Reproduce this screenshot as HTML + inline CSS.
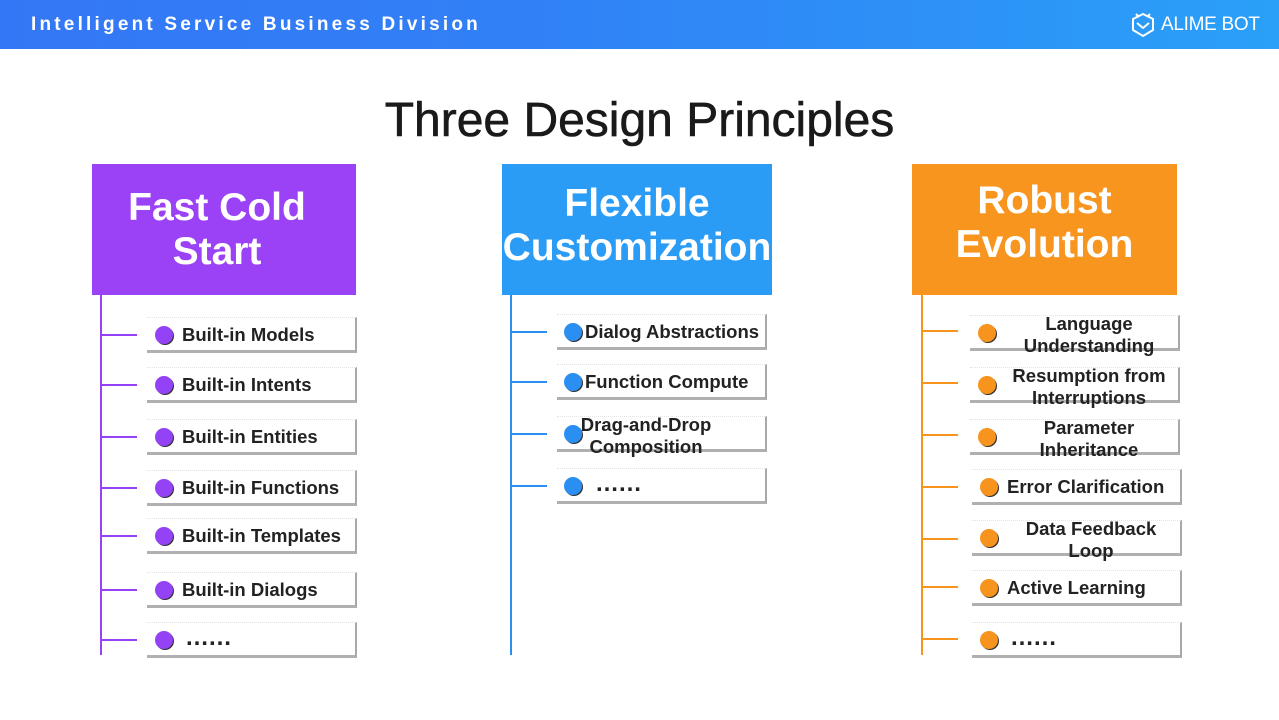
<!DOCTYPE html>
<html><head><meta charset="utf-8"><style>
*{margin:0;padding:0;box-sizing:border-box}
body{width:1279px;height:720px;position:relative;background:#fff;font-family:"Liberation Sans",sans-serif;overflow:hidden}
.hdr{position:absolute;left:0;top:0;width:1279px;height:49px;background:linear-gradient(90deg,#3477f6 0%,#3180f6 40%,#2aa0f8 100%)}
.hdr .t{position:absolute;left:31px;top:14px;color:#fff;font-size:19px;font-weight:bold;letter-spacing:3.2px}
.logo{position:absolute;left:1161px;top:14px;color:#fff;font-size:19px;letter-spacing:-0.3px}
.title{position:absolute;left:0;width:1279px;top:93px;text-align:center;font-size:48px;color:#1a1a1a;-webkit-text-stroke:0.6px #1a1a1a}
.head{position:absolute;top:164px;height:131px;color:#fff;font-size:39px;font-weight:bold;text-align:center;line-height:44px;display:flex;align-items:center;justify-content:center;white-space:nowrap}
.vl{position:absolute;width:2px;top:295px;height:360px}
.hl{position:absolute;height:2px;width:36px}
.box{position:absolute;width:210px;height:36px;border-right:2px solid #a8a8a8;border-bottom:3px solid #b0b0b0;border-top:1px dotted #e4e4e4;font-size:18.5px;font-weight:bold;color:#222}
.dot{position:absolute;left:8px;top:8px;width:18px;height:18px;border-radius:50%;box-shadow:1px 1px 0 #333}
.box .s{position:absolute;left:35px;top:6px;white-space:nowrap}
.box .d{position:absolute;left:30px;right:0;top:-3px;text-align:center;line-height:22px;white-space:nowrap}
.box .e{font-size:24px;top:1px;letter-spacing:-1px}
.p .dot{background:#9442f5}.b .dot{background:#2b8ff2}.o .dot{background:#f7941d}
</style></head><body>
<div class="hdr"><div class="t">Intelligent Service Business Division</div>
<svg style="position:absolute;left:1130px;top:11px" width="26" height="28" viewBox="0 0 26 28"><path d="M3 8 L13 3 L23 8 L23 19 L13 25 L3 19 Z" fill="none" stroke="#fff" stroke-width="2"/><path d="M7 12 L13 17 L19 12" fill="none" stroke="#fff" stroke-width="2"/><path d="M6 3 L9 6 M20 3 L17 6" stroke="#fff" stroke-width="2"/></svg>
<div class="logo">ALIME BOT</div></div>
<div class="title">Three Design Principles</div>

<div class="head" style="left:92px;width:264px;background:#9b41f6;padding-right:14px">Fast Cold<br>Start</div>
<div class="head" style="left:502px;width:270px;background:#2a9cf5;padding-bottom:8px">Flexible<br>Customization</div>
<div class="head" style="left:912px;width:265px;background:#f7951e;padding-bottom:14px">Robust<br>Evolution</div>

<div class="vl" style="left:100px;background:#9442f5"></div>
<div class="vl" style="left:510px;background:#2b8ff2"></div>
<div class="vl" style="left:921px;background:#f7941d"></div>

<div class="hl" style="left:101px;top:334px;background:#9442f5"></div>
<div class="hl" style="left:101px;top:384px;background:#9442f5"></div>
<div class="hl" style="left:101px;top:436px;background:#9442f5"></div>
<div class="hl" style="left:101px;top:487px;background:#9442f5"></div>
<div class="hl" style="left:101px;top:535px;background:#9442f5"></div>
<div class="hl" style="left:101px;top:589px;background:#9442f5"></div>
<div class="hl" style="left:101px;top:639px;background:#9442f5"></div>

<div class="box p" style="left:147px;top:317px"><div class="dot"></div><div class="s">Built-in Models</div></div>
<div class="box p" style="left:147px;top:367px"><div class="dot"></div><div class="s">Built-in Intents</div></div>
<div class="box p" style="left:147px;top:419px"><div class="dot"></div><div class="s">Built-in Entities</div></div>
<div class="box p" style="left:147px;top:470px"><div class="dot"></div><div class="s">Built-in Functions</div></div>
<div class="box p" style="left:147px;top:518px"><div class="dot"></div><div class="s">Built-in Templates</div></div>
<div class="box p" style="left:147px;top:572px"><div class="dot"></div><div class="s">Built-in Dialogs</div></div>
<div class="box p" style="left:147px;top:622px"><div class="dot"></div><div class="s e" style="left:38px">……</div></div>

<div class="hl" style="left:511px;top:331px;background:#2b8ff2"></div>
<div class="hl" style="left:511px;top:381px;background:#2b8ff2"></div>
<div class="hl" style="left:511px;top:433px;background:#2b8ff2"></div>
<div class="hl" style="left:511px;top:485px;background:#2b8ff2"></div>

<div class="box b" style="left:557px;top:314px"><div class="dot" style="left:7px"></div><div class="s" style="left:28px">Dialog Abstractions</div></div>
<div class="box b" style="left:557px;top:364px"><div class="dot" style="left:7px"></div><div class="s" style="left:28px">Function Compute</div></div>
<div class="box b" style="left:557px;top:416px"><div class="dot" style="left:7px"></div><div class="d" style="left:0;right:30px">Drag-and-Drop<br>Composition</div></div>
<div class="box b" style="left:557px;top:468px"><div class="dot" style="left:7px"></div><div class="s e" style="left:38px">……</div></div>

<div class="hl" style="left:922px;top:330px;background:#f7941d"></div>
<div class="hl" style="left:922px;top:382px;background:#f7941d"></div>
<div class="hl" style="left:922px;top:434px;background:#f7941d"></div>
<div class="hl" style="left:922px;top:486px;background:#f7941d"></div>
<div class="hl" style="left:922px;top:538px;background:#f7941d"></div>
<div class="hl" style="left:922px;top:586px;background:#f7941d"></div>
<div class="hl" style="left:922px;top:638px;background:#f7941d"></div>

<div class="box o" style="left:970px;top:315px"><div class="dot"></div><div class="d">Language<br>Understanding</div></div>
<div class="box o" style="left:970px;top:367px"><div class="dot"></div><div class="d">Resumption from<br>Interruptions</div></div>
<div class="box o" style="left:970px;top:419px"><div class="dot"></div><div class="d">Parameter<br>Inheritance</div></div>
<div class="box o" style="left:972px;top:469px"><div class="dot"></div><div class="s">Error Clarification</div></div>
<div class="box o" style="left:972px;top:520px"><div class="dot"></div><div class="d">Data Feedback<br>Loop</div></div>
<div class="box o" style="left:972px;top:570px"><div class="dot"></div><div class="s">Active Learning</div></div>
<div class="box o" style="left:972px;top:622px"><div class="dot"></div><div class="s e" style="left:38px">……</div></div>
</body></html>
